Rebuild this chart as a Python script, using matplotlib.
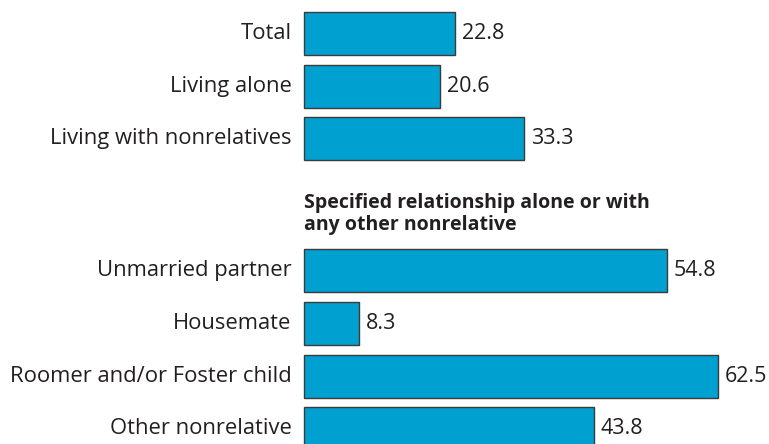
import matplotlib
matplotlib.use("Agg")
import matplotlib.pyplot as plt

categories = ["Total", "Living alone", "Living with nonrelatives",
              "Unmarried partner", "Housemate", "Roomer and/or Foster child",
              "Other nonrelative"]
values = [22.8, 20.6, 33.3, 54.8, 8.3, 62.5, 43.8]
positions = [0, 1, 2, 4.5, 5.5, 6.5, 7.5]
heading_lines = ["Specified relationship alone or with", "any other nonrelative"]

BAR = "#00a0d0"
EDGE = "#3a3a3a"
TXT = "#231f20"
FONT = "Open Sans"

W, H = 769, 444
fig = plt.figure(figsize=(W / 100, H / 100), dpi=100)
ax = fig.add_axes([0, 0, 1, 1])
ax.axis("off")

px_per_unit = 6.62
pitch = 52.7
x0_px = 304
y0_px = 33.5
ax.set_xlim(-x0_px / px_per_unit, (W - x0_px) / px_per_unit)
ax.set_ylim((H - y0_px) / pitch, -y0_px / pitch)

ax.barh(positions, values, height=0.815, left=0, color=BAR,
        edgecolor=EDGE, linewidth=1.0)

for cat, val, pos in zip(categories, values, positions):
    ax.annotate(cat, xy=(0, pos), xytext=(-9, 0), textcoords="offset points",
                ha="right", va="center", fontsize=15.8, color=TXT, family=FONT)
    ax.annotate(f"{val:.1f}", xy=(val, pos), xytext=(5, 0),
                textcoords="offset points", ha="left", va="center",
                fontsize=15.5, color=TXT, family=FONT)

for i, line in enumerate(heading_lines):
    ax.text(0, (208 + 22 * i - y0_px) / pitch, line, ha="left", va="baseline",
            fontsize=14, fontweight="bold", color=TXT, family=FONT)

fig.savefig("out.png", dpi=100)
